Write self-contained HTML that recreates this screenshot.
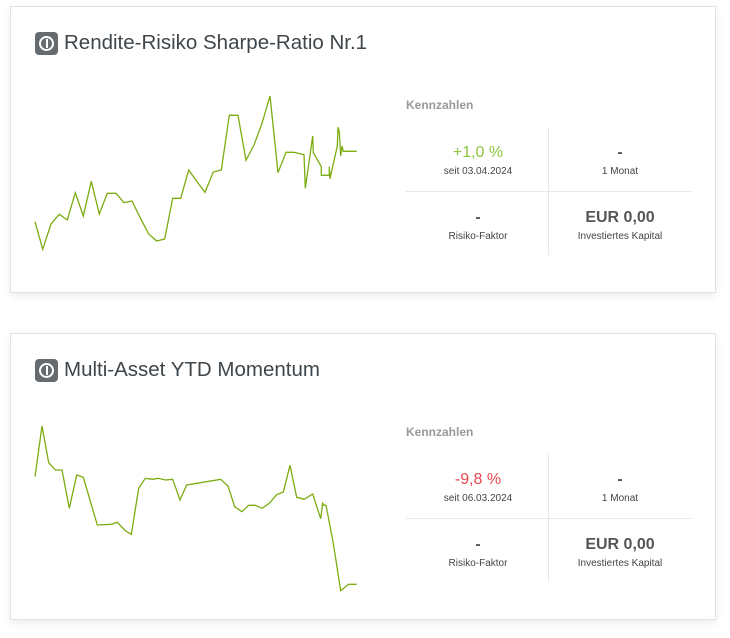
<!DOCTYPE html><html><head><style>
body{margin:0;background:#fff;width:730px;height:638px;position:relative;font-family:"Liberation Sans",sans-serif;overflow:hidden}
.card{position:absolute;left:10px;width:704px;height:285px;border:1px solid #e2e2e2;background:#fff;box-shadow:0 3px 8px rgba(0,0,0,.08)}
.t{position:absolute;left:24px;top:24px;font-size:20.5px;color:#3f464b;display:flex;align-items:center}
.ic{width:23px;height:23px;background:#666b6f;border-radius:4px;margin-right:6px;position:relative}
.ic:after{content:"";position:absolute;left:4px;top:4px;width:11px;height:11px;border:2px solid #fff;border-radius:50%}
.ic:before{content:"";position:absolute;left:10.5px;top:7px;width:2px;height:9px;background:#fff;z-index:1}
.k{position:absolute;left:395px;top:91px;font-size:12px;color:#999;font-weight:bold}
.vl{position:absolute;left:537px;top:120px;width:1px;height:128px;background:#e8e8e8}
.hl{position:absolute;left:395px;top:184px;width:285px;height:1px;background:#e8e8e8}
.c{position:absolute;width:144px;text-align:center}
.v{font-size:16px;color:#555;font-weight:bold;height:20px}
.l{font-size:10px;color:#444;margin-top:2px}
svg{position:absolute;left:0;top:0}
</style></head><body>
<div class="card" style="top:6px">
<div class="t"><span class="ic"></span>Rendite-Risiko Sharpe-Ratio Nr.1</div>
<svg width="704" height="286" viewBox="11 7 704 286"><polyline fill="none" stroke="#7cac10" stroke-width="1.3" points="35,221.7 42.7,249.3 51,224 59.3,214.3 67.3,220 75.3,192.7 83.3,216 91.3,181.3 99.3,214 107.3,193.3 116,193.3 124,202.7 132,201 140,217.3 148.7,234 156.7,241 164.7,239 172.7,198.3 180.7,198.3 188.7,170 196.7,181.3 205,192.3 213.3,172 221.3,170 229.3,115.3 238,115.3 246,160.3 254,145 262,123.3 270,96 278,172.7 286,152.3 294,152.3 304,154.7 305.3,188.3 312.7,136 313.3,152.7 321.3,166.7 321.3,175.3 329.3,175.3 329.3,166.7 330,178.7 337.3,146 338,127.3 339.3,131.7 340.7,156 342,146 343.3,151.3 356.7,151.3"/></svg>
<div class="k">Kennzahlen</div><div class="vl"></div><div class="hl"></div>
<div class="c" style="left:395px;top:137px"><div class="v" style="color:#8dc63f;font-weight:normal">+1,0 %</div><div class="l">seit 03.04.2024</div></div>
<div class="c" style="left:537px;top:137px"><div class="v">-</div><div class="l">1 Monat</div></div>
<div class="c" style="left:395px;top:202px"><div class="v">-</div><div class="l">Risiko-Faktor</div></div>
<div class="c" style="left:537px;top:202px"><div class="v">EUR 0,00</div><div class="l">Investiertes Kapital</div></div>
</div>
<div class="card" style="top:333px">
<div class="t"><span class="ic"></span>Multi-Asset YTD Momentum</div>
<svg width="704" height="286" viewBox="11 334 704 286"><polyline fill="none" stroke="#7cac10" stroke-width="1.3" points="35,476.7 42,426 48.7,462.7 55.3,470 62,470 69.3,508.3 76.7,475 83.3,477.3 97.3,525 111.3,524.3 117.3,522.3 125.3,530.7 131.3,534.3 138.7,488.3 145.3,478.3 152.7,479.3 158,478.3 165.3,480 172.7,479.3 180,500 186.7,485 220.7,479.3 228,486 234.7,506.7 242,511.7 248.7,505.3 255.3,505.3 262,508.3 269.3,503.3 276.7,494.7 283.3,492 290,465.3 296.7,497.3 304,499.3 312.7,494 320.7,518.7 322.7,503.3 324,505.3 326,505.3 333.3,543.3 340.7,590.7 348.7,584.3 356.7,584.3"/></svg>
<div class="k">Kennzahlen</div><div class="vl"></div><div class="hl"></div>
<div class="c" style="left:395px;top:137px"><div class="v" style="color:#e8464e;font-weight:normal">-9,8 %</div><div class="l">seit 06.03.2024</div></div>
<div class="c" style="left:537px;top:137px"><div class="v">-</div><div class="l">1 Monat</div></div>
<div class="c" style="left:395px;top:202px"><div class="v">-</div><div class="l">Risiko-Faktor</div></div>
<div class="c" style="left:537px;top:202px"><div class="v">EUR 0,00</div><div class="l">Investiertes Kapital</div></div>
</div>
</body></html>
